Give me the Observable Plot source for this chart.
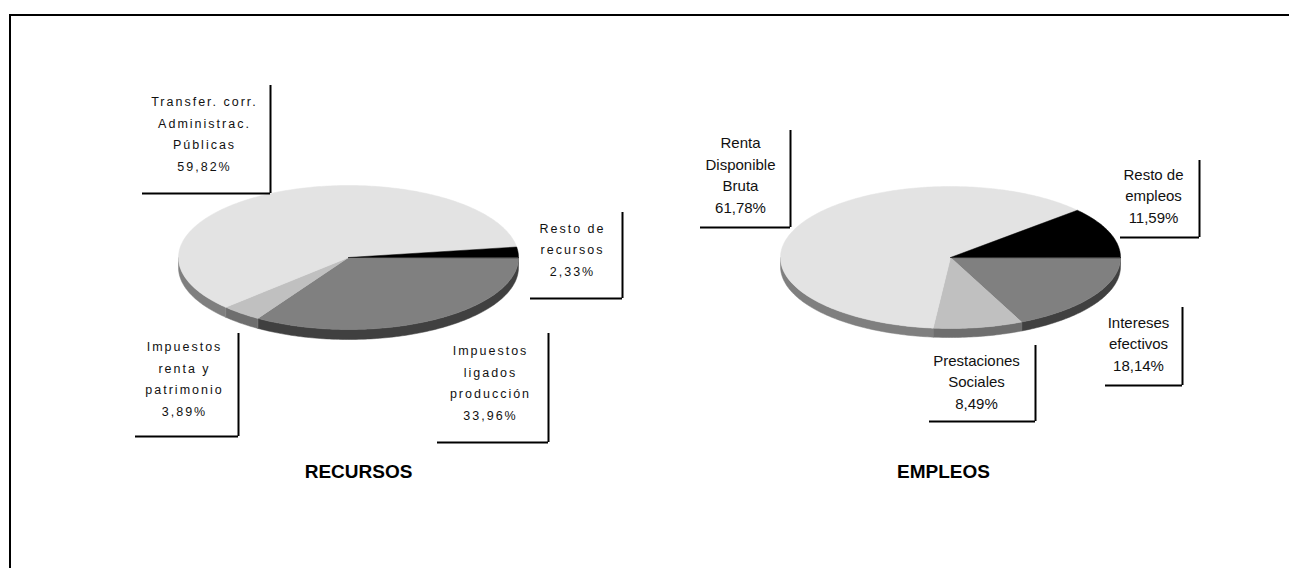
<!DOCTYPE html>
<html><head><meta charset="utf-8">
<script src="https://cdn.jsdelivr.net/npm/d3@7"></script>
<script src="https://cdn.jsdelivr.net/npm/@observablehq/plot@0.6"></script>
<style>
html,body{margin:0;padding:0;background:#fff;}
#wrap{position:relative;width:1289px;height:568px;overflow:hidden;}
#wrap svg{position:absolute;left:0;top:0;}
#borde{position:absolute;left:9px;top:14px;right:-10px;bottom:-10px;border-top:2px solid #000;border-left:2px solid #000;}
</style></head><body><div id="wrap"><div id="borde"></div></div>
<script>
// ---- Datos ----
const recursosCategorias = ["Impuestos ligados producción", "Impuestos renta y patrimonio", "Transfer. corr. Administrac. Públicas", "Resto de recursos"];
const recursosEtiquetas = ["Impuestos\nligados\nproducción", "Impuestos\nrenta y\npatrimonio", "Transfer. corr.\nAdministrac.\nPúblicas", "Resto de\nrecursos"];
const recursosValores = [33.96, 3.89, 59.82, 2.33];

const empleosCategorias = ["Intereses efectivos", "Prestaciones Sociales", "Renta Disponible Bruta", "Resto de empleos"];
const empleosEtiquetas = ["Intereses\nefectivos", "Prestaciones\nSociales", "Renta\nDisponible\nBruta", "Resto de\nempleos"];
const empleosValores = [18.14, 8.49, 61.78, 11.59];

const titulos = ["RECURSOS", "EMPLEOS"];

// ---- Estilo / disposición ----
const W = 1289, H = 568;
const tonos = ["#808080", "#c0c0c0", "#e3e3e3", "#000000"];
const tonosLado = ["#404040", "#6e6e6e", "#7f7f7f", "#000000"];
const pies = [
  {cx: 348, cy: 257, rx: 170, ry: 72, depth: 10},
  {cx: 950, cy: 257, rx: 170, ry: 71, depth: 9}
];
// label text centre and box (right border x2, top y1, bottom y2, left x1)
const recursosCajas = [
  {lx: 490, ly: 380, x1: 437, x2: 548, y1: 333, y2: 442},
  {lx: 184, ly: 376, x1: 135, x2: 238, y1: 333, y2: 436},
  {lx: 204, ly: 131, x1: 142, x2: 270, y1: 85, y2: 193},
  {lx: 572, ly: 247, x1: 530, x2: 622, y1: 212, y2: 298}
];
const empleosCajas = [
  {lx: 1138, ly: 342, x1: 1105, x2: 1182, y1: 307, y2: 385},
  {lx: 976, ly: 380, x1: 929, x2: 1035, y1: 345, y2: 421},
  {lx: 740, ly: 173, x1: 700, x2: 790, y1: 130, y2: 227},
  {lx: 1153, ly: 194, x1: 1120, x2: 1199, y1: 160, y2: 237}
];
const tituloPos = [{x: 358, y: 471}, {x: 943, y: 471}];

const fmt = v => v.toFixed(2).replace(".", ",") + "%";

function geometria(valores, p, grupo) {
  const total = d3.sum(valores);
  const tops = [], lados = [];
  let acc = 0;
  valores.forEach((v, i) => {
    const a0 = acc / total * 2 * Math.PI;
    acc += v;
    const a1 = acc / total * 2 * Math.PI;
    const id = grupo + "-" + i;
    const n = Math.max(2, Math.ceil((a1 - a0) / (Math.PI / 180)));
    tops.push({id, tono: tonos[i], x: p.cx, y: p.cy});
    for (let k = 0; k <= n; k++) {
      const t = a0 + (a1 - a0) * k / n;
      tops.push({id, tono: tonos[i], x: p.cx + p.rx * Math.cos(t), y: p.cy + p.ry * Math.sin(t)});
    }
    const s0 = Math.max(a0, 0), s1 = Math.min(a1, Math.PI);
    if (s1 > s0) {
      const m = Math.max(2, Math.ceil((s1 - s0) / (Math.PI / 180)));
      const arriba = [], abajo = [];
      for (let k = 0; k <= m; k++) {
        const t = s0 + (s1 - s0) * k / m;
        const x = p.cx + p.rx * Math.cos(t), y = p.cy + p.ry * Math.sin(t);
        arriba.push({id: id + "s", tono: tonosLado[i], x, y});
        abajo.push({id: id + "s", tono: tonosLado[i], x, y: y + p.depth});
      }
      lados.push(...arriba, ...abajo.reverse());
    }
  });
  return {tops, lados};
}

const gR = geometria(recursosValores, pies[0], "r");
const gE = geometria(empleosValores, pies[1], "e");

const etiquetasR = recursosValores.map((v, i) => ({...recursosCajas[i], texto: recursosEtiquetas[i] + "\n" + fmt(v), cat: recursosCategorias[i]}));
const etiquetasE = empleosValores.map((v, i) => ({...empleosCajas[i], texto: empleosEtiquetas[i] + "\n" + fmt(v), cat: empleosCategorias[i]}));
const cajas = [...etiquetasR, ...etiquetasE];
const tits = titulos.map((t, i) => ({t, ...tituloPos[i]}));

const svg = Plot.plot({
  width: W, height: H,
  margin: 0,
  x: {domain: [0, W], range: [0, W], axis: null},
  y: {domain: [0, H], range: [0, H], axis: null},
  color: {type: "identity"},
  style: {background: "transparent", fontFamily: "'Liberation Sans', Arial, sans-serif", color: "#000"},
  marks: [
    Plot.line([...gR.lados, ...gE.lados], {x: "x", y: "y", z: "id", fill: "tono", stroke: "tono", strokeWidth: 0.5, curve: "linear-closed"}),
    Plot.line([...gR.tops, ...gE.tops], {x: "x", y: "y", z: "id", fill: "tono", stroke: "tono", strokeWidth: 0.5, curve: "linear-closed"}),
    Plot.ruleX(cajas, {x: "x2", y1: "y1", y2: "y2", stroke: "#000", strokeWidth: 2}),
    Plot.ruleY(cajas, {y: "y2", x1: "x1", x2: "x2", stroke: "#000", strokeWidth: 2}),
    Plot.text(etiquetasR, {x: "lx", y: "ly", text: "texto", fontSize: 12.5, lineHeight: 1.73, lineAnchor: "middle", textAnchor: "middle", fill: "#111"}),
    Plot.text(etiquetasE, {x: "lx", y: "ly", text: "texto", fontSize: 15, lineHeight: 1.43, lineAnchor: "middle", textAnchor: "middle", fill: "#111"}),
    Plot.text(tits, {x: "x", y: "y", text: "t", fontSize: 19, fontWeight: "bold", textAnchor: "middle", fill: "#000"})
  ]
});
d3.select(svg).selectAll("g").filter(function() { return this.getAttribute("font-size") === "12.5"; })
  .attr("letter-spacing", "2px");
document.getElementById("wrap").appendChild(svg);
</script>
</body></html>
